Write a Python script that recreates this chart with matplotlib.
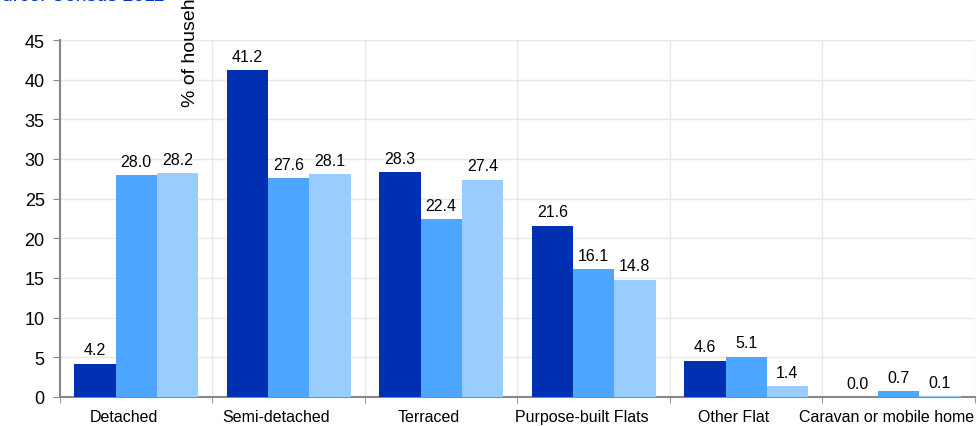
import numpy as np
import matplotlib.pyplot as plt

plt.rcParams['font.family'] = ['Liberation Sans', 'DejaVu Sans']

categories = ['Detached', 'Semi-detached', 'Terraced', 'Purpose-built Flats',
              'Other Flat', 'Caravan or mobile home']
series_a = [4.2, 41.2, 28.3, 21.6, 4.6, 0.0]
series_b = [28.0, 27.6, 22.4, 16.1, 5.1, 0.7]
series_c = [28.2, 28.1, 27.4, 14.8, 1.4, 0.1]
colors = ['#0030B2', '#4DA6FF', '#99CCFF']

fig = plt.figure(figsize=(9.78, 4.27), dpi=100)
ax = fig.add_axes([60 / 978, 29 / 427, 915 / 978, 357 / 427])

x = np.arange(len(categories))
w = 0.27
for i, (vals, c) in enumerate(zip([series_a, series_b, series_c], colors)):
    pos = x + (i - 1) * w
    ax.bar(pos, vals, width=w, color=c, zorder=3)
    for p, v in zip(pos, vals):
        ax.text(p, v + 0.8, f'{v:.1f}', ha='center', va='bottom', fontsize=11.5, zorder=4)

ax.set_xlim(-0.5, len(categories) - 0.5)
ax.set_ylim(0, 45)
ax.set_yticks(range(0, 46, 5))
# labels sit a little left of the group centres in the original
ax.set_xticks(x - 0.08)
ax.set_xticklabels(categories, fontsize=11.5)
ax.set_xticks(np.arange(-0.5, len(categories), 1), minor=True)
ax.tick_params(axis='x', which='major', length=0, pad=9)
ax.tick_params(axis='x', which='minor', length=4, color='#888888', direction='out')
ax.tick_params(axis='y', labelsize=13, length=5, color='#888888', pad=6)
ax.grid(True, axis='y', color='#e8e8e8', linewidth=1, zorder=0)
ax.grid(True, axis='x', which='minor', color='#e8e8e8', linewidth=1, zorder=0)
for s in ['top', 'right']:
    ax.spines[s].set_visible(False)
for s in ['left', 'bottom']:
    ax.spines[s].set_color('#888888')
    ax.spines[s].set_linewidth(1.5)

fig.text(-0.022, 1.027, 'Source: Census 2011', color='#0033CC', fontsize=14,
         ha='left', va='top')
fig.text(191 / 978, 1 - 107 / 427, '% of households', rotation=90, fontsize=14,
         ha='center', va='bottom')

fig.savefig('out.png', dpi=100)
